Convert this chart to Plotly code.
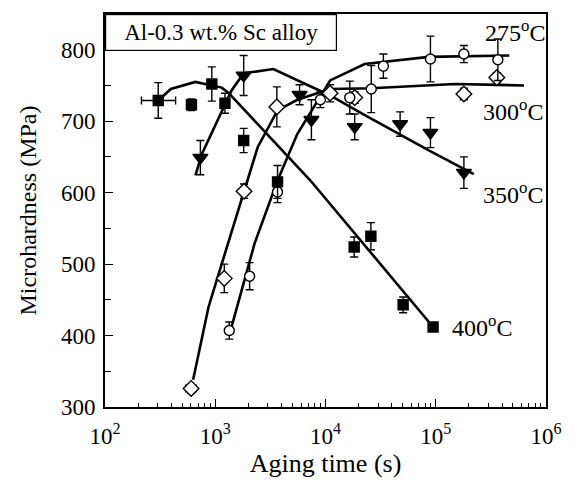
import math
import plotly.graph_objects as go

# ---------------- data ----------------
# 400 C (filled squares)
t400 = [304, 608, 931, 1225, 1811, 3673, 18200, 25800, 50600, 94600]
h400 = [729, 723, 752, 725, 673, 615, 524, 539, 443, 412]
e400 = [25, 8, 24, 14, 17, 23, 14, 19, 11, 4]
t400_xp = [133, 55, 0, 0, 0, 0, 0, 0, 0, 0]
t400_xm = [90, 55, 0, 0, 0, 0, 0, 0, 0, 0]
fit400_t = [300, 395, 660, 1145, 1313, 7300, 94600]
fit400_h = [728, 745, 755, 747, 740, 617, 412]

# 350 C (filled down-triangles)
t350 = [733, 1811, 5820, 7450, 18400, 47500, 89500, 180000]
h350 = [649, 764, 737, 702, 692, 696, 684, 628]
e350 = [24, 28, 14, 28, 18, 17, 21, 22]
fit350_t = [661, 757, 1406, 1811, 3365, 5546, 11015, 21878, 43551, 86497, 221300]
fit350_h = [624, 654, 743, 767, 773, 757, 736, 710, 684, 659, 626]

# 300 C (open diamonds)
t300 = [604, 1208, 1825, 3620, 11000, 18400, 180000, 358000]
h300 = [326, 480, 602, 720, 739, 733, 738, 761]
e300 = [6, 20, 10, 28, 12, 8, 8, 7]
t300_x = [65, 0, 0, 0, 0, 0, 0, 0]
fit300_t = [630, 869, 1225, 1726, 2432, 3673, 5546, 11015, 26000, 149600, 632400]
fit300_h = [338, 440, 515, 589, 664, 715, 730, 745, 746, 752, 750]

# 275 C (open circles)
t275 = [1340, 2050, 3670, 8980, 16600, 26000, 33500, 89500, 180000, 366000]
h275 = [407, 483, 601, 730, 733, 745, 777, 787, 794, 786]
e275 = [12, 19, 15, 11, 23, 33, 17, 32, 12, 29]
fit275_t = [1406, 2275, 3673, 5546, 11015, 22650, 86497, 464500]
fit275_h = [412, 529, 617, 682, 757, 780, 790, 792]

x_tickvals = [1e2, 1e3, 1e4, 1e5, 1e6]
x_ticktext = ["10<sup>2</sup>", "10<sup>3</sup>", "10<sup>4</sup>", "10<sup>5</sup>", "10<sup>6</sup>"]
y_tickvals = [300, 400, 500, 600, 700, 800]
x_minor = [m * 10 ** d for d in range(2, 6) for m in range(2, 10)]
y_minor = [350, 450, 550, 650, 750, 850]

labels = ["275<sup>o</sup>C", "300<sup>o</sup>C", "350<sup>o</sup>C", "400<sup>o</sup>C"]
label_t = [5.2e5, 5.0e5, 5.0e5, 2.65e5]
label_h = [826, 715, 599, 413]

# ---------------- figure ----------------
FONT = "Liberation Serif"
fig = go.Figure()

for tx, hy in [(fit400_t, fit400_h), (fit350_t, fit350_h), (fit300_t, fit300_h), (fit275_t, fit275_h)]:
    fig.add_trace(go.Scatter(x=tx, y=hy, mode="lines",
                             line=dict(color="black", width=2.6), showlegend=False,
                             hoverinfo="skip"))

def pts(tx, hy, ey, sym, fill, size, exp=None, exm=None):
    kw = {}
    if exp is not None:
        kw["error_x"] = dict(type="data", array=exp, arrayminus=exm, color="black",
                             thickness=1.4, width=4, symmetric=False)
    fig.add_trace(go.Scatter(
        x=tx, y=hy, mode="markers",
        marker=dict(symbol=sym, color=fill, size=size, line=dict(color="black", width=1.4)),
        error_y=dict(type="data", array=ey, color="black", thickness=1.4, width=4),
        showlegend=False, **kw))

pts(t300, h300, e300, "diamond", "white", 12, t300_x, t300_x)
pts(t275, h275, e275, "circle", "white", 10)
pts(t350, h350, e350, "triangle-down", "black", 13)
pts(t400, h400, e400, "square", "black", 10, t400_xp, t400_xm)

for lx, ly, lt in zip(label_t, label_h, labels):
    fig.add_annotation(x=math.log10(lx), y=ly, xref="x", yref="y", text=lt, showarrow=False,
                       xanchor="center", yanchor="middle",
                       font=dict(family=FONT, size=24, color="black"))

fig.add_annotation(x=0.0, y=1.0, xref="paper", yref="paper", xanchor="left", yanchor="top",
                   text="Al-0.3 wt.% Sc alloy", showarrow=False,
                   font=dict(family=FONT, size=23, color="black"),
                   width=228, height=33, borderpad=1, align="center",
                   bordercolor="black", borderwidth=1.2, bgcolor="white")

fig.update_xaxes(type="log", range=[2, 6], tickvals=x_tickvals, ticktext=x_ticktext,
                 ticks="inside", ticklen=8, tickwidth=1.4, tickcolor="black",
                 ticklabelstandoff=7,
                 minor=dict(tickvals=x_minor, ticks="inside", ticklen=4, tickwidth=1.2,
                            tickcolor="black"),
                 showline=True, linecolor="black", linewidth=2, mirror=True,
                 showgrid=False, zeroline=False,
                 tickfont=dict(family=FONT, size=23, color="black"),
                 title=dict(text="Aging time (s)", font=dict(family=FONT, size=26, color="black"),
                            standoff=4))
fig.update_yaxes(range=[300, 850], tickvals=y_tickvals,
                 ticks="inside", ticklen=8, tickwidth=1.4, tickcolor="black",
                 ticklabelstandoff=3,
                 minor=dict(tickvals=y_minor, ticks="inside", ticklen=6, tickwidth=1.2,
                            tickcolor="black"),
                 showline=True, linecolor="black", linewidth=2, mirror=True,
                 showgrid=False, zeroline=False,
                 tickfont=dict(family=FONT, size=23, color="black"),
                 title=dict(text="Microhardness (MPa)", font=dict(family=FONT, size=24, color="black"),
                            standoff=18))

fig.update_layout(width=574, height=491, margin=dict(l=105, r=22, t=13, b=84),
                  plot_bgcolor="white", paper_bgcolor="white")

fig.write_html("out.html")
